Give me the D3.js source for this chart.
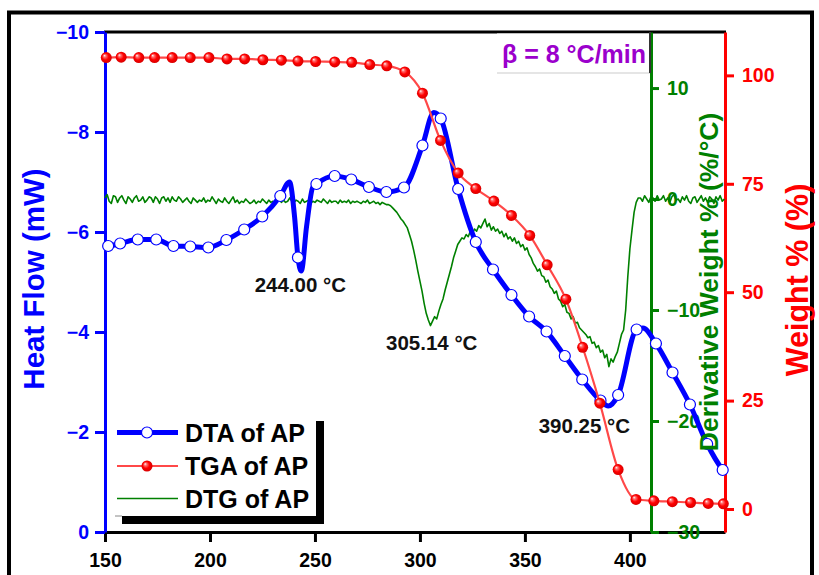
<!DOCTYPE html>
<html>
<head>
<meta charset="utf-8">
<script src="https://cdn.jsdelivr.net/npm/d3@7/dist/d3.min.js"></script>
<style>
  html, body { margin: 0; padding: 0; background: #fff; }
  svg { display: block; font-family: Arial, 'Liberation Sans', sans-serif; font-weight: bold; }
</style>
</head>
<body>
<div id="chart"></div>
<script>
// DTA / TGA / DTG of AP, beta = 8 C/min

// DTA (heat flow, mW); mark = 1 where an open circle is drawn
var dtaTemp = [150, 151.5, 157.2, 165.6, 174.4, 182.6, 190.6, 199.2, 207.8, 216.3, 224.9, 233.5, 237.9, 240.3, 241.9, 243.5,
    246.0, 249.0, 250.7, 259.4, 267.3, 275.7, 284.0, 292.4, 301.2, 306.6, 309.9, 318.2, 326.6, 334.8, 343.6,
    352.0, 360.3, 369.0, 377.3, 386.0, 389.7, 394.4, 403.2, 406.2, 412.4, 420.3, 428.6, 436.8, 444.2, 445.3];
var dtaFlow = [-5.76, -5.72, -5.77, -5.85, -5.85, -5.72, -5.71, -5.69, -5.84, -6.05, -6.31, -6.72, -7.00, -6.30, -5.49, -5.22,
    -6.11, -6.90, -6.96, -7.12, -7.05, -6.90, -6.80, -6.89, -7.73, -8.39, -8.27, -6.86, -5.80, -5.25, -4.74,
    -4.31, -4.01, -3.52, -3.05, -2.63, -2.52, -2.74, -4.05, -4.08, -3.77, -3.19, -2.55, -1.76, -1.24, -1.18];
var dtaMark = [0, 1, 1, 1, 1, 1, 1, 1, 1, 1, 1, 1, 0, 0, 1, 0,
    0, 0, 1, 1, 1, 1, 1, 1, 1, 0, 1, 1, 1, 1, 1,
    1, 1, 1, 1, 1, 0, 1, 1, 0, 1, 1, 1, 1, 1, 0];

// TGA (weight %)
var tgaTemp = [150.6, 157.7, 166.1, 173.6, 182.0, 190.6, 199.5, 208.1, 216.5, 225.2, 234.0, 241.9, 250.3, 259.4, 267.5,
    276.1, 284.2, 292.8, 301.2, 309.8, 318.2, 326.6, 335.2, 343.6, 352.3, 360.6, 369.5, 377.5, 385.7, 394.4,
    402.9, 411.4, 420.2, 428.9, 437.3, 444.5];
var tgaWeight = [104.1, 104.2, 104.1, 104.1, 104.1, 104.1, 104.1, 103.8, 103.8, 103.6, 103.5, 103.3, 103.2, 103.1, 103.0,
    102.5, 102.2, 100.8, 95.9, 85.0, 77.5, 73.9, 71.0, 67.7, 63.1, 56.3, 48.4, 37.3, 24.4, 9.1,
    2.2, 1.9, 1.7, 1.5, 1.3, 1.2];

// DTG (derivative weight, %/C), sampled every 1 C from 150 C
var dtgStart = 150;
var dtgStep = 1;
var dtgValues = [
    0.1, 0.4, -0.2, -0.4, 0.3, 0.2, -0.3, 0.1, 0.3, -0.1,        // 150
    -0.4, 0.2, 0.0, -0.3, 0.1, 0.3, -0.2, -0.1, 0.2, -0.3,       // 160
    -0.1, 0.2, 0.1, -0.3, 0.2, 0.0, -0.4, 0.1, 0.2, -0.2,        // 170
    0.1, -0.3, 0.2, -0.1, -0.2, 0.2, 0.0, -0.3, -0.1, 0.1,       // 180
    -0.2, -0.4, 0.1, -0.1, -0.3, -0.1, -0.2, 0.1, -0.3, -0.1,    // 190
    -0.2, 0.2, -0.1, -0.4, 0.0, -0.2, -0.3, 0.1, -0.2, -0.4,     // 200
    -0.1, 0.2, -0.3, -0.1, -0.4, -0.2, -0.3, 0.0, -0.2, -0.4,    // 210
    -0.3, -0.1, -0.4, -0.2, -0.3, 0.0, -0.2, -0.4, -0.1, -0.3,   // 220
    -0.2, -0.4, -0.2, 0.0, -0.3, -0.1, -0.3, -0.2, 0.1, -0.2,    // 230
    -0.3, -0.1, -0.2, -0.4, 0.0, -0.3, -0.2, -0.1, -0.4, -0.2,   // 240
    -0.3, -0.1, -0.2, -0.3, 0.0, -0.2, -0.4, -0.1, -0.3, -0.2,   // 250
    -0.2, -0.4, -0.1, -0.3, -0.2, -0.3, -0.1, -0.4, -0.2, -0.3,  // 260
    -0.2, -0.3, -0.4, -0.2, -0.3, -0.1, -0.4, -0.3, -0.2, -0.4,  // 270
    -0.3, -0.5, -0.3, -0.4, -0.5, -0.5, -0.6, -0.8, -1.0, -1.2,  // 280
    -1.5, -1.8, -2.0, -2.3, -2.6, -3.2, -3.8, -4.6, -5.5, -6.5,  // 290
    -7.4, -8.3, -9.4, -10.3, -10.9, -11.4, -11.0, -10.6, -10.8, -10.1, // 300
    -9.5, -9.0, -8.2, -7.5, -6.8, -6.1, -5.3, -4.7, -4.1, -3.8,  // 310
    -3.5, -3.6, -3.2, -3.4, -2.9, -3.1, -2.7, -2.9, -2.4, -2.6,  // 320
    -2.2, -1.8, -2.5, -2.2, -2.8, -2.5, -2.9, -2.7, -3.1, -2.9,  // 330
    -3.4, -3.1, -3.6, -3.4, -3.8, -3.5, -4.0, -3.8, -4.3, -4.1,  // 340
    -4.6, -4.4, -5.0, -5.3, -5.8, -6.1, -6.5, -6.3, -6.9, -7.0,  // 350
    -7.5, -7.3, -7.9, -8.1, -8.5, -8.3, -9.0, -9.2, -9.7, -9.5,  // 360
    -10.2, -10.3, -10.8, -10.6, -11.2, -11.1, -11.6, -11.8, -12.0, -12.2, // 370
    -12.5, -12.4, -13.0, -12.9, -13.4, -13.2, -13.8, -13.6, -14.3, -14.0, // 380
    -15.1, -14.4, -14.7, -14.2, -13.8, -13.0, -12.2, -11.8, -10.0, -7.0,  // 390
    -4.5, -2.8, -1.2, -0.3, 0.1, 0.1, -0.2, 0.3, 0.0, -0.3,      // 400
    0.2, 0.1, -0.2, 0.3, -0.1, 0.0, 0.3, -0.2, 0.1, -0.3,        // 410
    0.2, 0.4, -0.1, 0.0, -0.3, 0.2, -0.1, 0.3, -0.2, -0.4,       // 420
    0.1, 0.2, -0.3, 0.0, 0.3, -0.2, 0.1, -0.3, 0.2, 0.0,         // 430
    -0.4, 0.2, -0.1, 0.3, -0.2, 0.0                              // 440
];

// Axis ticks
var tempTicks = [150, 200, 250, 300, 350, 400];
var flowTicks = [0, -2, -4, -6, -8, -10];
var dtgTicks = [10, 0, -10, -20, -30];
var weightTicks = [0, 25, 50, 75, 100];

// Peak annotations
var peakLabels = ['244.00 °C', '305.14 °C', '390.25 °C'];
var legendNames = ['DTA of AP', 'TGA of AP', 'DTG of AP'];
var rateLabel = 'β = 8 °C/min';

var width = 819, height = 575;
var BLUE = '#0000ff', RED = '#ff0000', GREEN = '#008000', PURPLE = '#9b00cc';

var svg = d3.select('#chart').append('svg')
    .attr('width', width)
    .attr('height', height);

// ball gradient for TGA markers
var defs = svg.append('defs');
var grad = defs.append('radialGradient')
    .attr('id', 'ball')
    .attr('cx', '50%').attr('cy', '50%').attr('r', '55%')
    .attr('fx', '32%').attr('fy', '30%');
grad.append('stop').attr('offset', '0%').attr('stop-color', '#ffffff');
grad.append('stop').attr('offset', '22%').attr('stop-color', '#ff7070');
grad.append('stop').attr('offset', '55%').attr('stop-color', '#ff0000');
grad.append('stop').attr('offset', '100%').attr('stop-color', '#d00000');

// outer frame
svg.append('rect')
    .attr('x', 9).attr('y', 12.5)
    .attr('width', 803).attr('height', 580)
    .attr('fill', 'none')
    .attr('stroke', '#000')
    .attr('stroke-width', 4);

var x = d3.scaleLinear().domain([150, 445.3]).range([105, 725]);
var yFlow = d3.scaleLinear().domain([0, -10]).range([532, 32]);
var yDtg = d3.scaleLinear().domain([-30, 15.05]).range([532, 32]);
var yWt = d3.scaleLinear().domain([-5.3, 110]).range([532, 32]);

function styleAxis(g, color) {
    g.select('.domain').attr('stroke', color).attr('stroke-width', 3);
    g.selectAll('.tick line').attr('stroke', color).attr('stroke-width', 3);
    g.selectAll('.tick text')
        .attr('fill', color)
        .attr('font-size', '19.5px')
        .attr('font-weight', 'bold')
        .attr('font-family', 'Arial, "Liberation Sans", sans-serif');
}

// top frame line
svg.append('line')
    .attr('x1', 104).attr('x2', 726)
    .attr('y1', 32).attr('y2', 32)
    .attr('stroke', '#000').attr('stroke-width', 3);

// beta box
svg.append('rect')
    .attr('x', 497).attr('y', 33.5)
    .attr('width', 153).attr('height', 39)
    .attr('fill', '#fff');
svg.append('line')
    .attr('x1', 497).attr('x2', 650)
    .attr('y1', 73).attr('y2', 73)
    .attr('stroke', '#dcdcdc').attr('stroke-width', 1.5);
svg.append('text')
    .attr('x', 502).attr('y', 63)
    .attr('fill', PURPLE)
    .attr('font-size', '25px')
    .text(rateLabel);

// bottom axis
var gx = svg.append('g')
    .attr('transform', 'translate(0,532)')
    .call(d3.axisBottom(x).tickValues(tempTicks).tickSize(10).tickSizeOuter(0).tickPadding(11));
styleAxis(gx, '#000');

// left axis (heat flow)
var gl = svg.append('g')
    .attr('transform', 'translate(105,0)')
    .call(d3.axisLeft(yFlow).tickValues(flowTicks).tickSize(10).tickSizeOuter(0).tickPadding(6));
styleAxis(gl, BLUE);

// green axis (DTG)
var gg = svg.append('g')
    .attr('transform', 'translate(651,0)')
    .call(d3.axisRight(yDtg).tickValues(dtgTicks).tickSize(8).tickSizeOuter(0).tickPadding(8));
styleAxis(gg, GREEN);

// dark edge of the beta box over the green axis
svg.append('line')
    .attr('x1', 650).attr('x2', 650)
    .attr('y1', 32).attr('y2', 73)
    .attr('stroke', '#333').attr('stroke-width', 2);

// red axis (weight)
var gr = svg.append('g')
    .attr('transform', 'translate(725,0)')
    .call(d3.axisRight(yWt).tickValues(weightTicks).tickSize(9).tickSizeOuter(0).tickPadding(8));
styleAxis(gr, RED);

// DTG line
var dtgData = dtgValues.map(function (v, i) { return { t: dtgStart + i * dtgStep, v: v }; });
svg.append('path')
    .datum(dtgData)
    .attr('fill', 'none')
    .attr('stroke', GREEN)
    .attr('stroke-width', 1.6)
    .attr('stroke-linejoin', 'round')
    .attr('d', d3.line()
        .x(function (d) { return x(d.t); })
        .y(function (d) { return yDtg(d.v); }));

// DTA line + open circles
var dtaData = dtaTemp.map(function (t, i) { return { t: t, v: dtaFlow[i], m: dtaMark[i] }; });
svg.append('path')
    .datum(dtaData)
    .attr('fill', 'none')
    .attr('stroke', BLUE)
    .attr('stroke-width', 5)
    .attr('stroke-linejoin', 'round')
    .attr('d', d3.line()
        .curve(d3.curveMonotoneX)
        .x(function (d) { return x(d.t); })
        .y(function (d) { return yFlow(d.v); }));
svg.append('g').selectAll('circle')
    .data(dtaData.filter(function (d) { return d.m; }))
    .join('circle')
    .attr('cx', function (d) { return x(d.t); })
    .attr('cy', function (d) { return yFlow(d.v); })
    .attr('r', 5.5)
    .attr('fill', '#fff')
    .attr('stroke', BLUE)
    .attr('stroke-width', 1.2);

// TGA line + ball markers
var tgaData = tgaTemp.map(function (t, i) { return { t: t, v: tgaWeight[i] }; });
svg.append('path')
    .datum([{ t: 150, v: tgaWeight[0] }].concat(tgaData))
    .attr('fill', 'none')
    .attr('stroke', '#ff4848')
    .attr('stroke-width', 2.2)
    .attr('d', d3.line()
        .curve(d3.curveMonotoneX)
        .x(function (d) { return x(d.t); })
        .y(function (d) { return yWt(d.v); }));
svg.append('g').selectAll('circle')
    .data(tgaData)
    .join('circle')
    .attr('cx', function (d) { return x(d.t); })
    .attr('cy', function (d) { return yWt(d.v); })
    .attr('r', 5.5)
    .attr('fill', 'url(#ball)');

// peak annotations
var annot = [
    { x: x(244.0) - 2, y: yFlow(-5.24) + 22 },
    { x: x(305.14) + 1, y: yDtg(-11.4) + 24 },
    { x: x(390.25) - 25, y: yFlow(-2.52) + 27 }
];
svg.append('g').selectAll('text')
    .data(peakLabels)
    .join('text')
    .attr('x', function (d, i) { return annot[i].x; })
    .attr('y', function (d, i) { return annot[i].y; })
    .attr('text-anchor', 'middle')
    .attr('font-size', '20.5px')
    .attr('fill', '#111')
    .text(function (d) { return d; });

// legend with drop shadow
var lg = svg.append('g');
lg.append('rect').attr('x', 122).attr('y', 516).attr('width', 202).attr('height', 8).attr('fill', '#000');
lg.append('rect').attr('x', 316).attr('y', 421).attr('width', 8).attr('height', 103).attr('fill', '#000');
lg.append('rect').attr('x', 115).attr('y', 421).attr('width', 201).attr('height', 95).attr('fill', '#fff');
lg.append('line').attr('x1', 115).attr('x2', 122).attr('y1', 516).attr('y2', 516)
    .attr('stroke', '#888').attr('stroke-width', 1);

var rowY = [432.5, 466, 498.5];
lg.append('line').attr('x1', 117).attr('x2', 178).attr('y1', rowY[0]).attr('y2', rowY[0])
    .attr('stroke', BLUE).attr('stroke-width', 5);
lg.append('circle').attr('cx', 147).attr('cy', rowY[0]).attr('r', 5.5)
    .attr('fill', '#fff').attr('stroke', BLUE).attr('stroke-width', 1.2);
lg.append('line').attr('x1', 117).attr('x2', 178).attr('y1', rowY[1]).attr('y2', rowY[1])
    .attr('stroke', '#ff4848').attr('stroke-width', 2.2);
lg.append('circle').attr('cx', 147).attr('cy', rowY[1]).attr('r', 5.5).attr('fill', 'url(#ball)');
lg.append('line').attr('x1', 117).attr('x2', 178).attr('y1', rowY[2]).attr('y2', rowY[2])
    .attr('stroke', GREEN).attr('stroke-width', 1.6);
lg.selectAll('text.name')
    .data(legendNames)
    .join('text')
    .attr('class', 'name')
    .attr('x', 185)
    .attr('y', function (d, i) { return rowY[i] + 9; })
    .attr('font-size', '25px')
    .attr('fill', '#000')
    .text(function (d) { return d; });

// axis titles
svg.append('text')
    .attr('transform', 'translate(44,279) rotate(-90)')
    .attr('text-anchor', 'middle')
    .attr('font-size', '29.5px')
    .attr('fill', BLUE)
    .text('Heat Flow (mW)');
svg.append('text')
    .attr('transform', 'translate(718,282) rotate(-90)')
    .attr('text-anchor', 'middle')
    .attr('font-size', '26.5px')
    .attr('fill', GREEN)
    .text('Derivative Weight % (%/°C)');
svg.append('text')
    .attr('transform', 'translate(808,280) rotate(-90)')
    .attr('text-anchor', 'middle')
    .attr('font-size', '30.5px')
    .attr('fill', RED)
    .text('Weight % (%)');
</script>
</body>
</html>
